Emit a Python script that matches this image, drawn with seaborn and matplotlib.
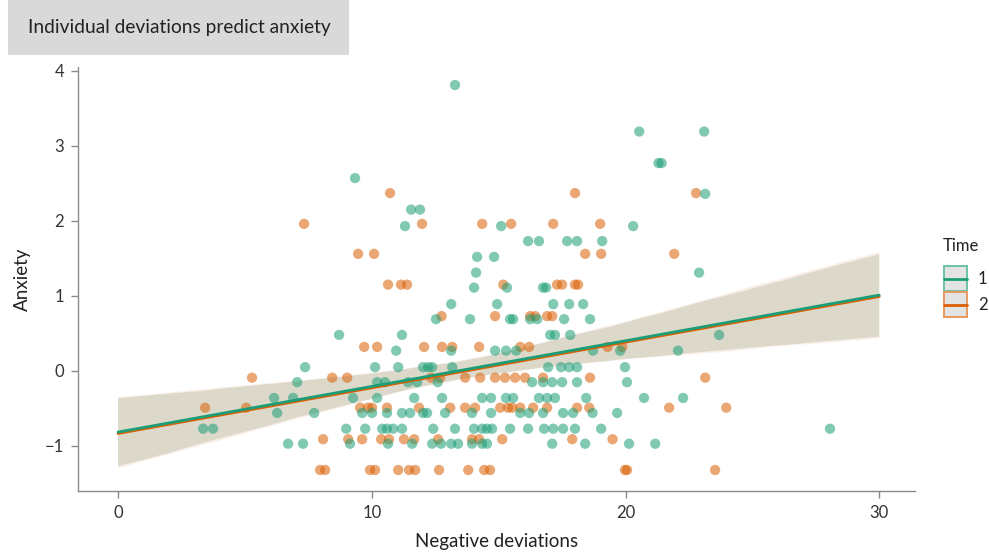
import numpy as np
import pandas as pd
import matplotlib
matplotlib.use("Agg")
import matplotlib.pyplot as plt
from matplotlib.patches import Rectangle
from matplotlib.lines import Line2D
import matplotlib.transforms as mtransforms
import seaborn as sns

# ---------------- data ----------------
t1_x = [13.28,
        20.54, 23.10,
        21.30, 21.42,
        9.34,
        23.14,
        11.55, 11.90,
        11.31, 15.10, 20.30,
        16.16, 16.59, 17.70, 18.09, 19.08,
        14.15, 14.82,
        14.11, 22.90,
        14.03, 15.33, 16.75, 16.87,
        13.13, 14.94, 17.15, 17.78, 18.33,
        12.53, 13.87, 15.45, 15.57, 16.24, 16.52, 17.58, 18.60,
        8.71, 11.19, 17.03, 17.22, 17.82, 23.69,
        10.96, 13.13, 14.86, 15.29, 15.69, 18.72, 19.79, 22.07,
        7.37, 10.13, 11.04, 12.02, 12.22, 12.38, 13.17, 16.95, 17.46, 17.78, 18.09, 19.98,
        7.06, 10.21, 10.52, 11.43, 11.79, 12.60, 16.32, 16.75, 17.11, 17.50, 18.09, 20.06,
        6.15, 6.90, 9.26, 10.21, 11.67, 12.77, 14.35, 14.70, 15.29, 15.57, 16.59, 16.91, 17.22, 18.45, 20.73, 22.27,
        6.27, 7.73, 9.62, 10.01, 10.60, 11.19, 11.51, 12.02, 12.18, 12.89, 13.95, 14.70, 15.85, 16.20, 16.75, 17.54, 17.93, 18.70, 19.67,
        3.35, 3.74, 8.99, 9.74, 10.41, 10.60, 10.84, 11.19, 12.42, 13.28, 14.03, 14.35, 14.54, 14.74, 15.45, 16.16, 16.79, 17.15, 17.54, 18.01, 19.04, 28.06,
        6.70, 7.29, 9.14, 10.64, 11.59, 12.38, 12.73, 13.13, 13.40, 13.95, 14.35, 14.54, 17.11, 18.41, 20.14, 21.17]
t1_y = ([3.81] + [3.19] * 2 + [2.77] * 2 + [2.57] + [2.36] + [2.15] * 2 + [1.93] * 3 +
        [1.73] * 5 + [1.52] * 2 + [1.31] * 2 + [1.11] * 4 + [0.89] * 5 + [0.69] * 8 +
        [0.48] * 6 + [0.27] * 8 + [0.05] * 12 + [-0.15] * 12 + [-0.36] * 16 +
        [-0.56] * 19 + [-0.77] * 22 + [-0.97] * 16)

t2_x = [10.72, 18.01, 22.78,
        7.33, 11.98, 14.35, 15.49, 17.15, 19.00,
        9.46, 10.09, 18.41, 19.04, 21.92,
        10.64, 11.15, 11.39, 15.18, 17.30, 17.50, 18.01, 18.13,
        12.75, 14.86, 16.24, 16.44, 16.91, 17.11,
        9.70, 10.21, 12.06, 12.77, 13.17, 14.23, 15.85, 16.20, 19.29, 19.87,
        5.28, 8.44, 9.03, 12.34, 12.69, 13.68, 14.27, 14.86, 15.25, 15.65, 16.04, 16.75, 18.60, 23.14,
        3.43, 5.05, 9.54, 9.85, 10.01, 10.60, 11.86, 13.09, 13.68, 14.07, 15.06, 15.37, 15.53, 15.85, 16.36, 16.91, 18.09, 18.57, 21.72, 23.97,
        8.08, 9.07, 9.62, 10.37, 10.68, 11.27, 11.67, 12.61, 13.95, 14.23, 15.14, 17.90, 19.49,
        7.96, 8.16, 9.93, 10.13, 11.04, 11.47, 11.71, 12.65, 13.80, 14.43, 14.66, 19.98, 20.06, 23.53]
t2_y = ([2.37] * 3 + [1.96] * 6 + [1.56] * 5 + [1.15] * 8 + [0.73] * 6 + [0.32] * 10 +
        [-0.09] * 14 + [-0.49] * 20 + [-0.91] * 13 + [-1.32] * 14)

time_labels = ["1", "2"]
colors = {"1": "#1b9e77", "2": "#d95f02"}
key_edge = {"1": "#6cc3a6", "2": "#e89a5e"}
band_colors = {"1": "#b3bb9f", "2": "#e8bfa5"}
band_alpha = {"1": 0.40, "2": 0.25}
band_ci = {"1": 95, "2": 96}

title = "Individual deviations predict anxiety"
legend_title = "Time"
x_label = "Negative deviations"
y_label = "Anxiety"
x_ticks = [0, 10, 20, 30]
y_ticks = [-1, 0, 1, 2, 3, 4]

df = pd.concat([
    pd.DataFrame({"x": t2_x, "y": t2_y, "Time": "2"}),
    pd.DataFrame({"x": t1_x, "y": t1_y, "Time": "1"}),
], ignore_index=True)

# ---------------- figure ----------------
sns.set_theme(style="ticks")
plt.rcParams["font.family"] = ["Lato", "DejaVu Sans"]

W, H = 989, 552
fig = plt.figure(figsize=(W / 100, H / 100), dpi=100)
ax = fig.add_axes([78 / W, 1 - 491 / H, (915 - 78) / W, (491 - 67) / H])

sns.scatterplot(data=df, x="x", y="y", hue="Time", palette=colors,
                s=55, alpha=0.55, linewidth=0, legend=False, ax=ax, zorder=2)

# model fit (pooled over time points) drawn for each time, over 0-30
ax.set_xlim(0, 30)
for t in ["2", "1"]:
    n_coll = len(ax.collections)
    n_line = len(ax.lines)
    sns.regplot(data=df, x="x", y="y", scatter=False, truncate=False,
                ci=band_ci[t], n_boot=1000, seed=7, color=colors[t],
                line_kws={"lw": 2.0, "zorder": 4 if t == "1" else 3}, ax=ax)
    for coll in ax.collections[n_coll:]:
        coll.set_facecolor(band_colors[t])
        coll.set_alpha(band_alpha[t])
        coll.set_edgecolor("none")
        coll.set_zorder(1)
    if t == "2":
        for ln in ax.lines[n_line:]:
            ln.set_transform(ln.get_transform() + mtransforms.ScaledTranslation(0, -1.4 / 100, fig.dpi_scale_trans))

ax.set_xlim(-1.58, 31.41)
ax.set_ylim(-1.6, 4.05)
ax.set_xticks(x_ticks)
ax.set_yticks(y_ticks)
ax.set_yticklabels([str(v).replace("-", "\u2212") for v in y_ticks])
ax.set_xlabel(x_label, fontsize=13.5, color="#222222", labelpad=9)
ax.set_ylabel(y_label, fontsize=13.5, color="#222222", labelpad=10)

for side in ["top", "right"]:
    ax.spines[side].set_visible(False)
for side in ["left", "bottom"]:
    ax.spines[side].set_color("#8a8a8a")
    ax.spines[side].set_linewidth(1.0)
ax.tick_params(axis="both", colors="#8a8a8a", labelcolor="#333333",
               labelsize=12, length=5, width=1.0, pad=5)

# title box
fig.patches.append(Rectangle((8 / W, 1 - 55 / H), 341 / W, 55 / H,
                             transform=fig.transFigure, facecolor="#d9d9d9",
                             edgecolor="none", zorder=0))
fig.text(28 / W, 1 - 28 / H, title, fontsize=13.8, color="#222222",
         va="center", ha="left")

# legend (keys: grey box, coloured outline, line through the middle)
fig.text(943 / W, 1 - 246 / H, legend_title, fontsize=12, color="#222222",
         ha="left", va="center")
key_x0, key_w, key_h, key_top = 944, 23, 25, 266
for i, t in enumerate(time_labels):
    top = key_top + i * (key_h + 1)
    fig.patches.append(Rectangle((key_x0 / W, 1 - (top + key_h) / H), key_w / W, key_h / H,
                                 transform=fig.transFigure, facecolor="#e3e3e3",
                                 edgecolor=key_edge[t], linewidth=1.4, zorder=3))
    ymid = 1 - (top + key_h / 2) / H
    fig.lines.append(Line2D([key_x0 / W, (key_x0 + key_w) / W], [ymid, ymid],
                            transform=fig.transFigure, color=colors[t], lw=2.0, zorder=4))
    fig.text(978 / W, ymid, t, fontsize=12, color="#222222", ha="left", va="center")

fig.savefig("out.png", dpi=100)
